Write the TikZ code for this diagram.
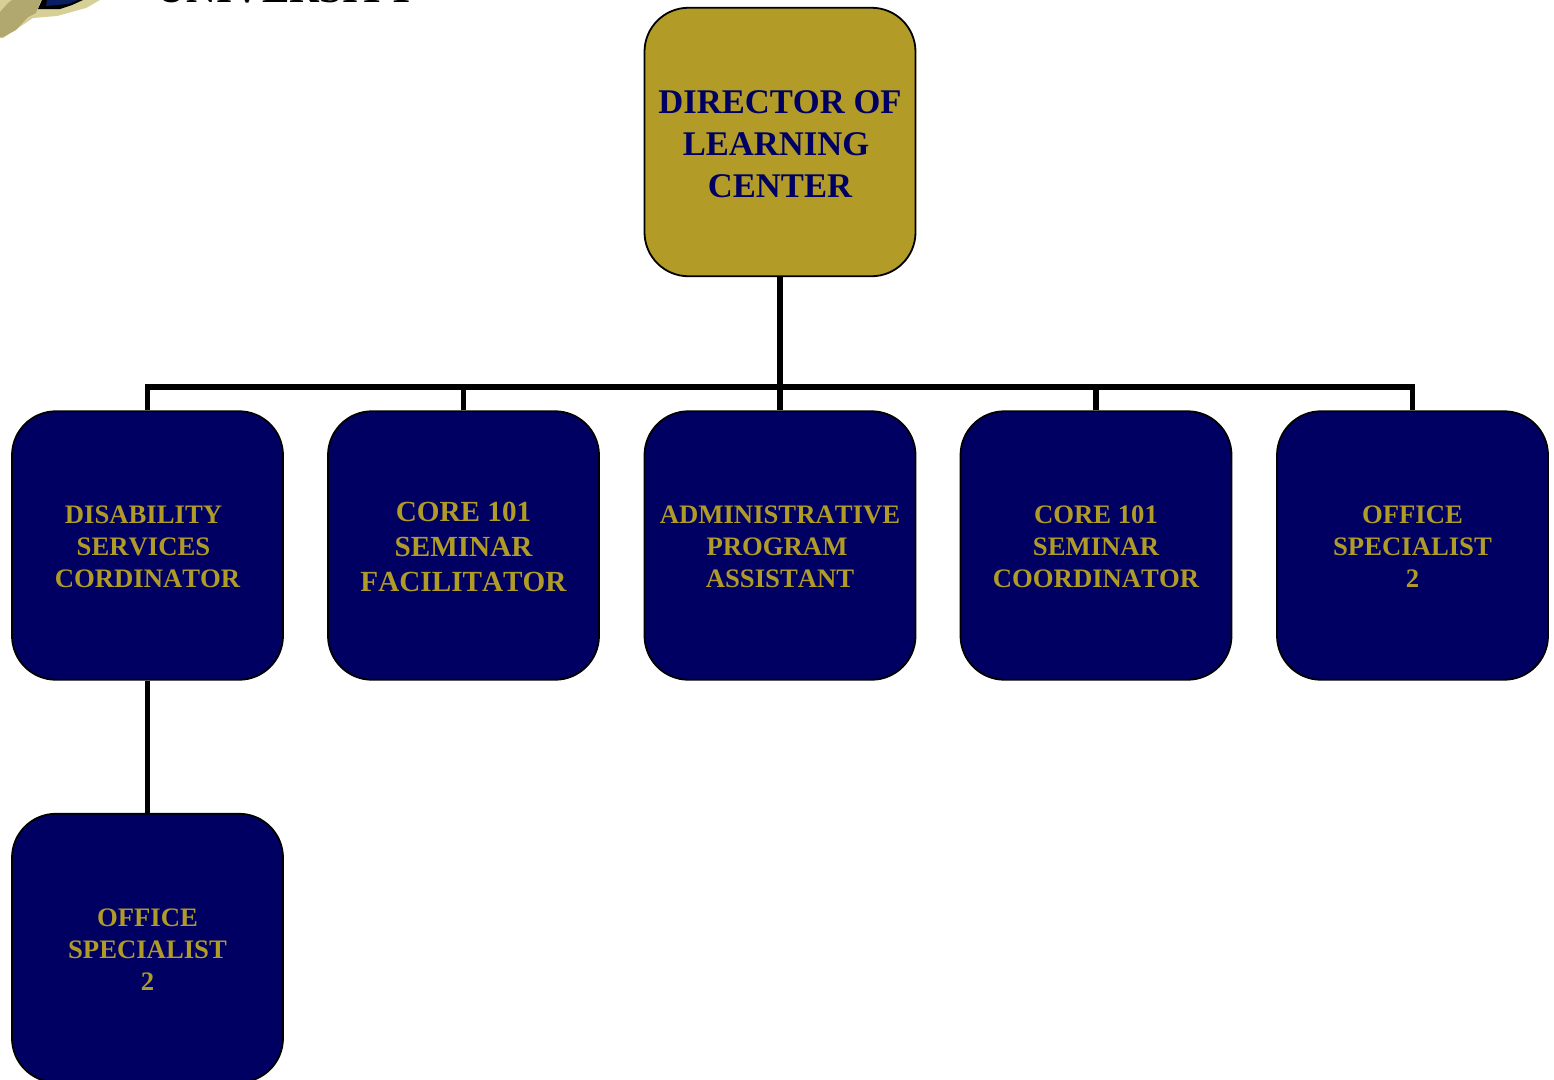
\documentclass[tikz,border=0pt]{standalone}
\usepackage{fontspec}
\setmainfont[Kerning=Off]{Liberation Serif}
\definecolor{navyc}{RGB}{0,0,99}
\definecolor{goldc}{RGB}{178,156,39}
\definecolor{goldt}{RGB}{176,155,38}
\definecolor{tanc}{RGB}{176,168,110}
\definecolor{tanl}{RGB}{214,208,150}
\definecolor{logob}{RGB}{10,30,100}
\newcommand{\nudge}[1]{\rule{0pt}{#1pt}}
\tikzset{
  card/.style={draw=black,line width=1.8pt,rounded corners=44pt,minimum width=271pt,minimum height=268.5pt,inner sep=0pt,align=center,font=\bfseries},
  topcard/.style={card,fill=goldc,text=navyc,font=\bfseries\fontsize{34.6}{42}\selectfont},
  lowcard/.style={card,fill=navyc,text=goldt,font=\bfseries\fontsize{26.7}{32}\selectfont},
  bigcard/.style={lowcard,font=\bfseries\fontsize{29.2}{35}\selectfont},
  link/.style={draw=black,line width=5.8pt,line cap=butt}
}
\begin{document}
\begin{tikzpicture}[x=1pt,y=-1pt]
\useasboundingbox (0,0) rectangle (1554,1079);
\clip (0,0) rectangle (1554,1079);
% logo fragment
\fill[tanl] (3,0) -- (100,0) -- (86,8) -- (57,16) -- (33,18) -- (3,38) -- (0,38) -- (0,0) -- cycle;
\fill[tanc] (8,3) -- (12,0) -- (41,0) -- (36,13) -- (28,17) -- (16,30) -- (3,37) -- (0,37) -- (0,12) -- cycle;
\fill[black] (42,0) -- (83,0) -- (72,5) -- (60,9) -- (38,9) -- cycle;
\fill[logob] (47,0) -- (78,0) -- (68,4) -- (46,6) -- cycle;
% clipped wordmark
\node[anchor=base,inner sep=0pt,font=\bfseries\fontsize{41.3}{42}\selectfont,text=black] (wordmark) at (286.5,2.5) {UNIVERSITY};
% boxes
\node[topcard] (dir) at (780,142) {\nudge{27}DIRECTOR OF\\\mbox{LEARNING\hspace{8pt}}\\CENTER};
\node[lowcard] (dis) at (147.5,545.5) {\nudge{20}\mbox{DISABILITY\hspace{8pt}}\\\mbox{SERVICES\hspace{8pt}}\\CORDINATOR};
\node[bigcard] (core) at (463.5,545.5) {\nudge{22}CORE 101\\SEMINAR\\FACILITATOR};
\node[lowcard] (adm) at (780,545.5) {\nudge{20}ADMINISTRATIVE\\\mbox{PROGRAM\hspace{6pt}}\\ASSISTANT};
\node[lowcard] (coord) at (1096,545.5) {\nudge{20}CORE 101\\SEMINAR\\COORDINATOR};
\node[lowcard] (off) at (1412.5,545.5) {\nudge{20}OFFICE\\SPECIALIST\\2};
\node[lowcard] (sub) at (147.5,948) {\nudge{20}OFFICE\\SPECIALIST\\2};
% connectors
\coordinate (busmid) at (780,387);
\draw[link] (dir.south) -- (adm.north);
\draw[link] (dis.north) -- (dis.north |- busmid) -- (off.north |- busmid) -- (off.north);
\draw[link] (core.north) -- (core.north |- busmid);
\draw[link] (coord.north) -- (coord.north |- busmid);
\draw[link] (dis.south) -- (sub.north);
\end{tikzpicture}
\end{document}
